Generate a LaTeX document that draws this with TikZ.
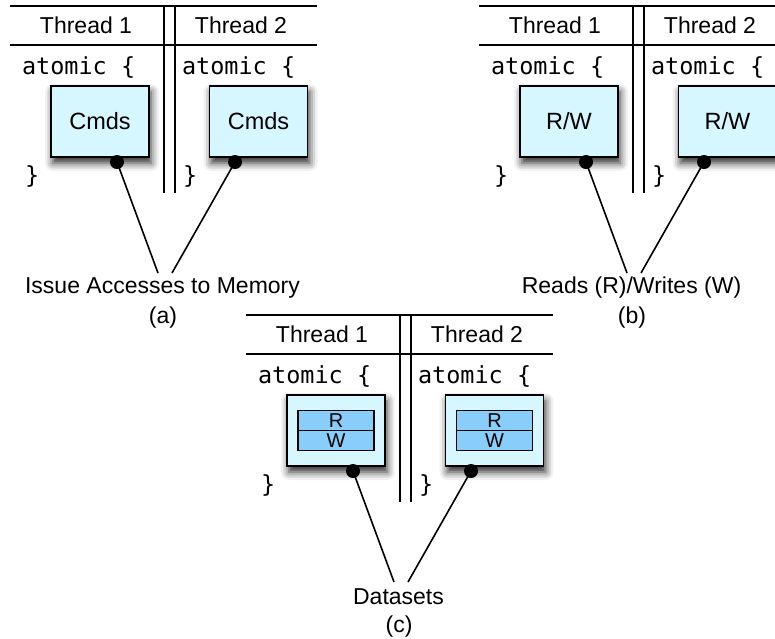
\documentclass[tikz,border=0pt]{standalone}
\usepackage{fontspec}
\setmainfont{Liberation Sans}
\newfontfamily\codefont{DejaVu Sans Mono}
\usetikzlibrary{shadows.blur}
\definecolor{boxfill}{RGB}{214,247,255}
\definecolor{rwfill}{RGB}{137,205,250}
\tikzset{
  every node/.style={inner sep=0pt, outer sep=0pt},
  rule/.style={line width=1.6pt},
  conn/.style={line width=1.6pt},
  head/.style={font=\fontsize{23}{26}\selectfont},
  code/.style={font=\codefont\fontsize{23.5}{26}\selectfont, anchor=west},
  cmdbox/.style={draw, line width=1.5pt, fill=boxfill, minimum width=98pt, minimum height=71pt,
    font=\fontsize{23.5}{26}\selectfont,
    blur shadow={shadow xshift=2pt, shadow yshift=-6pt, shadow blur radius=8pt, shadow opacity=85}},
  rwcell/.style={draw, line width=1.3pt, fill=rwfill, minimum width=76pt, minimum height=20pt,
    font=\fontsize{20}{20}\selectfont},
  dotnode/.style={circle, fill=black, minimum size=14pt},
}
\newcommand\drawpanel[6]{%
  \begin{scope}[shift={(#2,#3)}]
    \draw[rule] (10,6) -- (317,6);
    \draw[rule] (10,45) -- (317,45);
    \draw[rule] (164,6) -- (164,193);
    \draw[rule] (175,6) -- (175,193);
    \node[head] (#1t1) at (86,25) {Thread 1};
    \node[head] (#1t2) at (241,25) {Thread 2};
    \node[code] (#1a1) at (22,67) {atomic \{};
    \node[code] (#1a2) at (182,67) {atomic \{};
    \node[code] (#1c1) at (25,176) {\}};
    \node[code] (#1c2) at (183,176) {\}};
    \node[cmdbox] (#1b1) at (100,121.5) {#4};
    \node[cmdbox] (#1b2) at (258.5,121.5) {#4};
    \node[dotnode] (#1d1) at (117,162) {};
    \node[dotnode] (#1d2) at (235,162) {};
    \coordinate (#1e1) at (158,273);
    \coordinate (#1e2) at (172,273);
    \draw[conn] (#1d1.center) -- (#1e1);
    \draw[conn] (#1d2.center) -- (#1e2);
    \node[head] (#1lab) at (162.5,288) {#5};
    \node[head] (#1sub) at (163,318) {#6};
  \end{scope}}
\begin{document}
\begin{tikzpicture}[x=1pt,y=-1pt]
  \clip (0,0) rectangle (775,638);
  \drawpanel{a}{0}{0}{Cmds}{Issue Accesses to Memory}{(a)}
  \drawpanel{b}{469}{0}{R/W}{Reads (R)/Writes (W)}{(b)}
  \drawpanel{c}{236}{309}{}{Datasets}{(c)}
  \node[rwcell] (cr1) at ([yshift=10pt]cb1.center) {R};
  \node[rwcell] (cw1) at ([yshift=-10pt]cb1.center) {W};
  \node[rwcell] (cr2) at ([yshift=10pt]cb2.center) {R};
  \node[rwcell] (cw2) at ([yshift=-10pt]cb2.center) {W};
\end{tikzpicture}
\end{document}
